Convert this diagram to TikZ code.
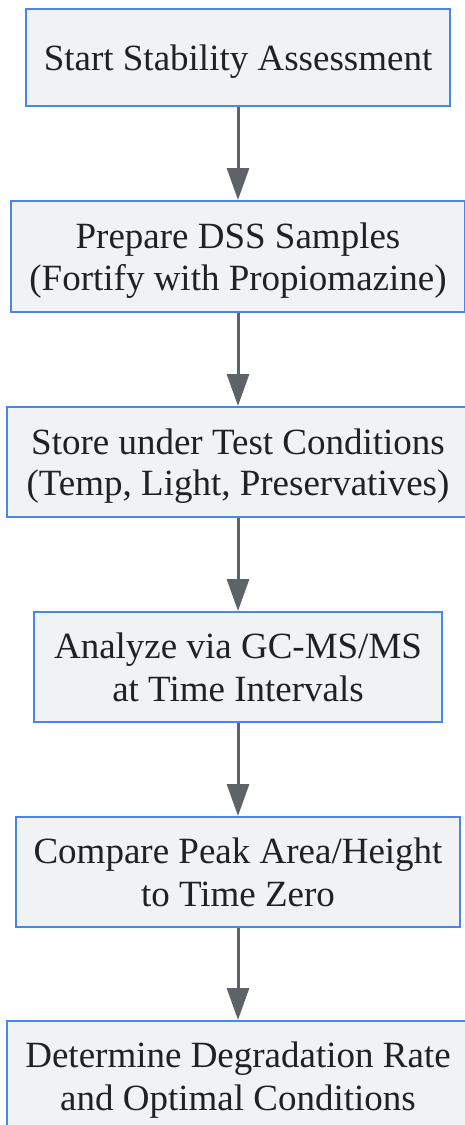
\documentclass[tikz,border=0pt]{standalone}
\usepackage{fontspec}
\setmainfont{Liberation Serif}
\usetikzlibrary{arrows.meta}
\definecolor{boxfill}{HTML}{F1F2F4}
\definecolor{boxline}{HTML}{4A86E8}
\definecolor{arrowgray}{HTML}{5F6368}
\definecolor{textdark}{HTML}{202124}
\newcommand{\ls}{\rule[-7.5pt]{0pt}{41pt}}
\begin{document}
\begin{tikzpicture}[x=1pt,y=-1pt,
  stepbox/.style={draw=boxline, line width=2pt, fill=boxfill, inner sep=0pt,
    align=center, text=textdark, font=\fontsize{37}{41}\selectfont},
  flow/.style={draw=arrowgray, line width=3pt, -{Triangle[length=32pt,width=22pt]}}]
\useasboundingbox (0,0) rectangle (464,1125);
\node[stepbox, minimum width=424pt, minimum height=97pt] (n1) at (238,57.5) {\ls Start Stability Assessment};
\node[stepbox, minimum width=454pt, minimum height=111pt] (n2) at (238,256.5) {\ls Prepare DSS Samples\\\ls (Fortify with Propiomazine)};
\node[stepbox, minimum width=462pt, minimum height=110pt] (n3) at (238,462) {\ls Store under Test Conditions\\\ls (Temp, Light, Preservatives)};
\node[stepbox, minimum width=408pt, minimum height=110pt] (n4) at (238,667) {\ls Analyze via GC-MS/MS\\\ls at Time Intervals};
\node[stepbox, minimum width=444pt, minimum height=110pt] (n5) at (238,872) {\ls Compare Peak Area/Height\\\ls to Time Zero};
\node[stepbox, minimum width=462pt, minimum height=110pt] (n6) at (238,1076) {\ls Determine Degradation Rate\\\ls and Optimal Conditions};
\draw[flow] (n1.south) -- (n2.north);
\draw[flow] (n2.south) -- (n3.north);
\draw[flow] (n3.south) -- (n4.north);
\draw[flow] (n4.south) -- (n5.north);
\draw[flow] (n5.south) -- (n6.north);
\end{tikzpicture}
\end{document}
